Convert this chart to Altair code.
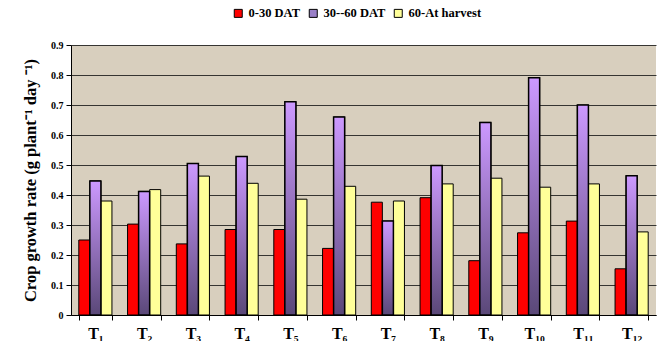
import altair as alt
import pandas as pd

treatments = ["T₁", "T₂", "T₃", "T₄", "T₅", "T₆", "T₇", "T₈", "T₉", "T₁₀", "T₁₁", "T₁₂"]
series = ["0-30 DAT", "30--60 DAT", "60-At harvest"]
s_0_30 = [0.25, 0.303, 0.237, 0.285, 0.285, 0.222, 0.376, 0.391, 0.181, 0.274, 0.313, 0.154]
s_30_60 = [0.447, 0.412, 0.505, 0.528, 0.711, 0.66, 0.313, 0.498, 0.642, 0.791, 0.70, 0.464]
s_60_h = [0.38, 0.418, 0.463, 0.439, 0.386, 0.429, 0.38, 0.437, 0.456, 0.426, 0.437, 0.277]
colors = ["#ff0000", "#9a80c8", "#ffff99"]

rows = []
for vals, s in zip([s_0_30, s_30_60, s_60_h], series):
    for t, v in zip(treatments, vals):
        rows.append({"treat": t, "series": s, "value": v})
df = pd.DataFrame(rows)

FONT = "Liberation Serif"

base = alt.Chart(df).encode(
    x=alt.X("treat:N", sort=treatments, title=None,
            scale=alt.Scale(paddingInner=0.32, paddingOuter=0.16),
            axis=alt.Axis(labelAngle=0, labelFont=FONT, labelFontSize=16, labelFontWeight="bold",
                          labelColor="black", labelPadding=5, tickBand="extent", tickSize=5,
                          tickColor="black", domainColor="black", grid=False)),
    xOffset=alt.XOffset("series:N", sort=series,
                        scale=alt.Scale(domain=series, paddingInner=0, paddingOuter=0)),
    y=alt.Y("value:Q", scale=alt.Scale(domain=[0, 0.9], nice=False),
            title="Crop growth rate (g plant⁻¹ day ⁻¹)",
            axis=alt.Axis(values=[0, 0.1, 0.2, 0.3, 0.4, 0.5, 0.6, 0.7, 0.8, 0.9], format=".1~f",
                          labelFont=FONT, labelFontSize=10, labelFontWeight="bold", labelColor="black",
                          labelPadding=3, tickSize=5, tickColor="black", domainColor="black",
                          grid=True, gridColor="#1a1a1a", gridOpacity=0.85,
                          titleFont=FONT, titleFontSize=16.5, titleFontWeight="bold", titleColor="black",
                          titlePadding=12)),
)

bars = base.mark_bar(stroke="black", strokeWidth=1).encode(
    color=alt.Color("series:N", sort=series,
                    scale=alt.Scale(domain=series, range=colors),
                    legend=alt.Legend(title=None, orient="none", legendX=161, legendY=-38,
                                      direction="horizontal", symbolType="square", symbolSize=64,
                                      symbolStrokeColor="black", symbolStrokeWidth=1,
                                      labelFont=FONT, labelFontSize=12.5, labelFontWeight="bold",
                                      labelColor="black", columnPadding=6, labelOffset=4))
)

grad = alt.Gradient(gradient="linear",
                    stops=[alt.GradientStop(color="#cc99ff", offset=0),
                           alt.GradientStop(color="#5a4878", offset=1)],
                    x1=0, x2=0, y1=0, y2=1)

purple = base.transform_filter(alt.datum.series == "30--60 DAT").mark_bar(
    fill=grad, stroke="black", strokeWidth=1.5)

chart = alt.layer(bars, purple).properties(
    width=585, height=270,
    background="white",
    autosize=alt.AutoSizeParams(type="none"),
    padding={"left": 71, "top": 45, "right": 1, "bottom": 26},
).configure_view(fill="#d8cfbe", stroke=None)

chart.save("out.html", embed_options={"renderer": "svg", "actions": False})
